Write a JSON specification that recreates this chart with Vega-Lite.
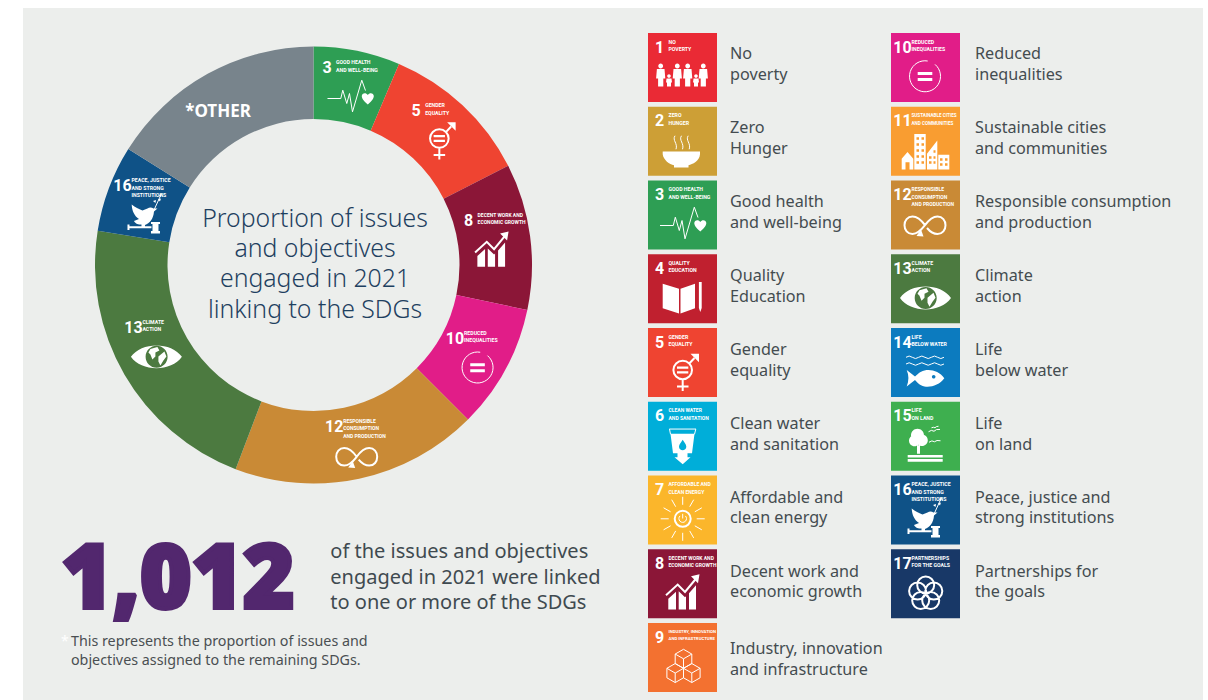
{
  "$schema": "https://vega.github.io/schema/vega-lite/v6.json",
  "width": 1180,
  "height": 692,
  "autosize": {"type": "none"},
  "padding": {"left": 23, "top": 8, "right": 5, "bottom": 0},
  "background": "#ffffff",
  "config": {"view": {"fill": "#eceeec", "stroke": null}},
  "datasets": {
    "goals": [
      {"goal": 1, "num": "1", "col": 1, "row": 1, "labelRow": 1, "title": "NO\nPOVERTY", "label": "No\npoverty"},
      {"goal": 2, "num": "2", "col": 1, "row": 2, "labelRow": 2, "title": "ZERO\nHUNGER", "label": "Zero\nHunger"},
      {"goal": 3, "num": "3", "col": 1, "row": 3, "labelRow": 3, "title": "GOOD HEALTH\nAND WELL-BEING", "label": "Good health\nand well-being"},
      {"goal": 4, "num": "4", "col": 1, "row": 4, "labelRow": 4, "title": "QUALITY\nEDUCATION", "label": "Quality\nEducation"},
      {"goal": 5, "num": "5", "col": 1, "row": 5, "labelRow": 5, "title": "GENDER\nEQUALITY", "label": "Gender\nequality"},
      {"goal": 6, "num": "6", "col": 1, "row": 6, "labelRow": 6, "title": "CLEAN WATER\nAND SANITATION", "label": "Clean water\nand sanitation"},
      {"goal": 7, "num": "7", "col": 1, "row": 7, "labelRow": 7, "title": "AFFORDABLE AND\nCLEAN ENERGY", "label": "Affordable and\nclean energy"},
      {"goal": 8, "num": "8", "col": 1, "row": 8, "labelRow": 8, "title": "DECENT WORK AND\nECONOMIC GROWTH", "label": "Decent work and\neconomic growth"},
      {"goal": 9, "num": "9", "col": 1, "row": 9, "labelRow": 9.05, "title": "INDUSTRY, INNOVATION\nAND INFRASTRUCTURE", "label": "Industry, innovation\nand infrastructure"},
      {"goal": 10, "num": "10", "col": 2, "row": 1, "labelRow": 1, "title": "REDUCED\nINEQUALITIES", "label": "Reduced\ninequalities"},
      {"goal": 11, "num": "11", "col": 2, "row": 2, "labelRow": 2, "title": "SUSTAINABLE CITIES\nAND COMMUNITIES", "label": "Sustainable cities\nand communities"},
      {"goal": 12, "num": "12", "col": 2, "row": 3, "labelRow": 3, "title": "RESPONSIBLE\nCONSUMPTION\nAND PRODUCTION", "label": "Responsible consumption\nand production"},
      {"goal": 13, "num": "13", "col": 2, "row": 4, "labelRow": 4, "title": "CLIMATE\nACTION", "label": "Climate\naction"},
      {"goal": 14, "num": "14", "col": 2, "row": 5, "labelRow": 5, "title": "LIFE\nBELOW WATER", "label": "Life\nbelow water"},
      {"goal": 15, "num": "15", "col": 2, "row": 6, "labelRow": 6, "title": "LIFE\nON LAND", "label": "Life\non land"},
      {"goal": 16, "num": "16", "col": 2, "row": 7, "labelRow": 7, "title": "PEACE, JUSTICE\nAND STRONG\nINSTITUTIONS", "label": "Peace, justice and\nstrong institutions"},
      {"goal": 17, "num": "17", "col": 2, "row": 8, "labelRow": 8, "title": "PARTNERSHIPS\nFOR THE GOALS", "label": "Partnerships for\nthe goals"}
    ],
    "slices": [
      {"goal": 3, "seq": 1, "share": 6.4, "ringX": 0.167, "ringY": 0.81, "num": "3", "title": "GOOD HEALTH\nAND WELL-BEING"},
      {"goal": 5, "seq": 2, "share": 11.1, "ringX": 0.575, "ringY": 0.613, "num": "5", "title": "GENDER\nEQUALITY"},
      {"goal": 8, "seq": 3, "share": 10.8, "ringX": 0.815, "ringY": 0.11, "num": "8", "title": "DECENT WORK AND\nECONOMIC GROWTH"},
      {"goal": 10, "seq": 4, "share": 9.2, "ringX": 0.753, "ringY": -0.429, "num": "10", "title": "REDUCED\nINEQUALITIES"},
      {"goal": 12, "seq": 5, "share": 18.3, "ringX": 0.2, "ringY": -0.831, "num": "12", "title": "RESPONSIBLE\nCONSUMPTION\nAND PRODUCTION"},
      {"goal": 13, "seq": 6, "share": 21.7, "ringX": -0.719, "ringY": -0.378, "num": "13", "title": "CLIMATE\nACTION"},
      {"goal": 16, "seq": 7, "share": 6.4, "ringX": -0.769, "ringY": 0.27, "num": "16", "title": "PEACE, JUSTICE\nAND STRONG\nINSTITUTIONS"},
      {"goal": 0, "seq": 8, "share": 16.1, "ringX": -0.437, "ringY": 0.677, "num": "", "title": "*OTHER"}
    ],
    "iconParts": [
      {"goal": 1, "part": "1s", "paint": "solid"},
      {"goal": 2, "part": "2s", "paint": "solid"},
      {"goal": 2, "part": "2t", "paint": "thin"},
      {"goal": 3, "part": "3s", "paint": "solid"},
      {"goal": 3, "part": "3t", "paint": "thin"},
      {"goal": 4, "part": "4s", "paint": "solid"},
      {"goal": 5, "part": "5s", "paint": "solid"},
      {"goal": 5, "part": "5b", "paint": "thick"},
      {"goal": 6, "part": "6s", "paint": "solid"},
      {"goal": 6, "part": "6t", "paint": "thin"},
      {"goal": 7, "part": "7t", "paint": "thin"},
      {"goal": 7, "part": "7b", "paint": "thick"},
      {"goal": 8, "part": "8s", "paint": "solid"},
      {"goal": 8, "part": "8b", "paint": "thick"},
      {"goal": 9, "part": "9t", "paint": "thin"},
      {"goal": 10, "part": "10s", "paint": "solid"},
      {"goal": 10, "part": "10t", "paint": "thin"},
      {"goal": 11, "part": "11s", "paint": "solid"},
      {"goal": 12, "part": "12s", "paint": "solid"},
      {"goal": 12, "part": "12b", "paint": "thick"},
      {"goal": 13, "part": "13s", "paint": "solid"},
      {"goal": 14, "part": "14s", "paint": "solid"},
      {"goal": 14, "part": "14t", "paint": "thin"},
      {"goal": 15, "part": "15s", "paint": "solid"},
      {"goal": 15, "part": "15t", "paint": "thin"},
      {"goal": 16, "part": "16s", "paint": "solid"},
      {"goal": 16, "part": "16t", "paint": "thin"},
      {"goal": 17, "part": "17t", "paint": "thick"}
    ]
  },
  "resolve": {"scale": {"x": "independent", "y": "independent"}},
  "layer": [
    {
      "data": {"name": "goals"},
      "mark": {"type": "point", "shape": "square", "filled": true, "size": 4761, "opacity": 1, "strokeWidth": 0},
      "encoding": {
        "x": {"field": "col", "type": "quantitative", "axis": null, "scale": {"domain": [1, 2], "range": [659.5, 902.5]}},
        "y": {"field": "row", "type": "quantitative", "axis": null, "scale": {"domain": [1, 9], "range": [59.5, 649.5]}},
        "color": {
          "field": "goal", "type": "nominal", "legend": null,
          "scale": {
            "domain": [0, 1, 2, 3, 4, 5, 6, 7, 8, 9, 10, 11, 12, 13, 14, 15, 16, 17],
            "range": ["#78848c", "#ea2a35", "#cd9f36", "#2e9e54", "#c0202f", "#ef4431", "#00aed9", "#fbb62b", "#8b1637", "#f37130", "#e11d88", "#f99d31", "#c98a36", "#4c7a40", "#0c7bbf", "#3eaf4f", "#0f5287", "#183867"]
          }
        }
      }
    },
    {
      "data": {"name": "goals"},
      "mark": {"type": "text", "font": "Roboto", "fontWeight": "bold", "fontSize": 16, "fill": "#ffffff", "align": "center", "baseline": "alphabetic", "dx": -23, "dy": -15},
      "encoding": {
        "x": {"field": "col", "type": "quantitative", "axis": null, "scale": {"domain": [1, 2], "range": [659.5, 902.5]}},
        "y": {"field": "row", "type": "quantitative", "axis": null, "scale": {"domain": [1, 9], "range": [59.5, 649.5]}},
        "text": {"field": "num", "type": "nominal"}
      }
    },
    {
      "data": {"name": "goals"},
      "mark": {"type": "text", "font": "Roboto", "fontWeight": "bold", "fontSize": {"expr": "datum.goal == 9 ? 4.3 : datum.goal == 11 ? 4.6 : datum.goal == 6 || datum.goal == 7 || datum.goal == 8 || datum.goal == 12 ? 5 : 5.2"}, "fill": "#ffffff", "align": "left", "baseline": "top", "dx": -14, "dy": -28, "lineBreak": "\n", "lineHeight": 7.5},
      "encoding": {
        "x": {"field": "col", "type": "quantitative", "axis": null, "scale": {"domain": [1, 2], "range": [659.5, 902.5]}},
        "y": {"field": "row", "type": "quantitative", "axis": null, "scale": {"domain": [1, 9], "range": [59.5, 649.5]}},
        "text": {"field": "title", "type": "nominal"}
      }
    },
    {
      "data": {"name": "iconParts"},
      "transform": [
        {"lookup": "goal", "from": {"data": {"name": "goals"}, "key": "goal", "fields": ["col", "row"]}}
      ],
      "mark": {"type": "point", "filled": true, "size": 4, "opacity": 1, "stroke": "#ffffff"},
      "encoding": {
        "x": {"field": "col", "type": "quantitative", "axis": null, "scale": {"domain": [1, 2], "range": [659.5, 902.5]}},
        "y": {"field": "row", "type": "quantitative", "axis": null, "scale": {"domain": [1, 9], "range": [59.5, 649.5]}},
        "fill": {"field": "paint", "type": "nominal", "legend": null, "scale": {"domain": ["solid", "thin", "thick"], "range": ["#ffffff", "transparent", "transparent"]}},
        "strokeWidth": {"field": "paint", "type": "ordinal", "legend": null, "scale": {"domain": ["solid", "thin", "thick"], "range": [0, 2, 3.2]}},
        "shape": {
          "field": "part", "type": "nominal", "legend": null,
          "scale": {
            "domain": ["1s", "2s", "2t", "3s", "3t", "4s", "5s", "5b", "6s", "6t", "7t", "7b", "8s", "8b", "9t", "10s", "10t", "11s", "12s", "12b", "13s", "14s", "14t", "15s", "15t", "16s", "16t", "17t"],
            "range": [
              "M-24.2,-1.5 a2.4,2.4 0 1,1 4.8,0 a2.4,2.4 0 1,1 -4.8,0 Z M-25.6,1.5 h7.6 l0.8,9.5 h-2 v8 h-5.2 v-8 h-2 Z M-7.6,-1.5 a2.4,2.4 0 1,1 4.8,0 a2.4,2.4 0 1,1 -4.8,0 Z M-9,1.5 h7.6 l0.8,9.5 h-2 v8 h-5.2 v-8 h-2 Z M2.8,-1.5 a2.4,2.4 0 1,1 4.8,0 a2.4,2.4 0 1,1 -4.8,0 Z M1.4,1.5 h7.6 l0.8,9.5 h-2 v8 h-5.2 v-8 h-2 Z M18.4,-1.5 a2.4,2.4 0 1,1 4.8,0 a2.4,2.4 0 1,1 -4.8,0 Z M17,1.5 h7.6 l0.8,9.5 h-2 v8 h-5.2 v-8 h-2 Z M-15.3,8.5 a1.8,1.8 0 1,1 3.6,0 a1.8,1.8 0 1,1 -3.6,0 Z M-16,11 h5 l0.5,4 h-1 v4 h-4 v-4 h-1 Z M11.7,8.5 a1.8,1.8 0 1,1 3.6,0 a1.8,1.8 0 1,1 -3.6,0 Z M11,11 h5 l0.5,4 h-1 v4 h-4 v-4 h-1 Z",
              "M-19.8,10.2 H17.5 V13 C17,20 10,23 6,24 V26.2 H-8.5 V24 C-13,23 -19,19 -19.8,13 Z",
              "M-7.5,-5.5 C-10.5,-1 -4.5,2 -6.5,8 M-1,-5.5 C-4,-1 2,2 0,8 M5.7,-5.5 C2.7,-1 8.7,2 6.7,8",
              "M17.8,16.5 C13,12.5 11.8,10 11.8,8 C11.8,5 16,4 17.8,7 C19.6,4 23.8,5 23.8,8 C23.8,10 22.6,12.5 17.8,16.5 Z",
              "M-22.5,10.5 H-9.2 L-7.2,2.2 L-3.2,15.5 L-0.5,5.5 L2.5,23.8 L11.8,-7.8 L15.5,2.5",
              "M-19.8,-5 L-3.5,0 V24.8 L-19.8,19.5 Z M-2,0 L12.5,-5 V19.5 L-2,24.8 Z M16.4,-6.8 h2.8 v26 l-1.4,4 l-1.4,-4 Z",
              "M8,-8.8 H16.5 V-0.3 Z M-5.5,4 H5.8 V6.3 H-5.5 Z M-5.5,8.7 H5.8 V11 H-5.5 Z",
              "M-9.1,7.5 A9.3,9.3 0 1,1 9.5,7.5 A9.3,9.3 0 1,1 -9.1,7.5 Z M7,0.8 L12,-4.5 M0.2,16.8 V28.5 M-5.5,24 H6",
              "M-12,-2.5 H12 L9.5,17 H5 V21 H8 L0.2,28 L-8,21 H-5 V17 H-9.5 Z M0.2,3.5 C-1.5,6.5 -3.5,8 -3.5,10.5 C-3.5,12.5 -1.7,14 0.2,14 C2,14 3.8,12.5 3.8,10.5 C3.8,8 2,6.5 0.2,3.5 Z",
              "M-13.2,-7.2 H13.5 M-13,-7.2 L-12,-2 M13.3,-7.2 L12,-2",
              "M14.2,8.8 L22.2,8.8 M12.3,15.8 L19.3,19.8 M7.2,20.9 L11.2,27.9 M0.2,22.8 L0.2,30.8 M-6.8,20.9 L-10.8,27.9 M-11.9,15.8 L-18.9,19.8 M-13.8,8.8 L-21.8,8.8 M-11.9,1.8 L-18.9,-2.2 M-6.8,-3.3 L-10.8,-10.3 M0.2,-5.2 L0.2,-13.2 M7.2,-3.3 L11.2,-10.3 M12.3,1.8 L19.3,-2.2 M-2.5,5.9 A3.8,3.8 0 1,0 2.9,5.9 M0.2,3.8 V8.5",
              "M-7.8,8.8 A8,8 0 1,1 8.2,8.8 A8,8 0 1,1 -7.8,8.8 Z",
              "M-14.2,25.8 V15 L-6.5,8 V25.8 Z M-3.8,25.8 V7.5 L2.5,13.5 L3.5,12.5 V25.8 Z M6.5,25.8 V9.5 L13.5,1.5 V25.8 Z M8.5,-7.5 L17,-9.5 L15.5,-0.5 Z",
              "M-16.5,11.5 L-4.8,0.8 L2.5,8.2 L13,-4.5",
              "M1,-8.2 l8.3,4.75 v9.5 l-8.3,4.75 l-8.3,-4.75 v-9.5 Z M-7.3,-3.45 L1,1.3 L9.3,-3.45 M1,1.3 V10.8 M-7.3,6.05 l8.3,4.75 v9.5 l-8.3,4.75 l-8.3,-4.75 v-9.5 Z M-15.6,10.8 L-7.3,15.55 L1,10.8 M-7.3,15.55 V25.05 M9.3,6.05 l8.3,4.75 v9.5 l-8.3,4.75 l-8.3,-4.75 v-9.5 Z M1,10.8 L9.3,15.55 L17.6,10.8 M9.3,15.55 V25.05",
              "M-7.8,4.5 H6.8 V7.5 H-7.8 Z M-7.8,10.5 H6.8 V13.5 H-7.8 Z",
              "M2.2,-6.5 A15.5,15.5 0 1,0 9.5,-3.1",
              "M-23.8,17.5 L-18,10.8 L-12.2,17.5 V28.2 H-23.8 Z M-20,21 v7.2 h4 v-7.2 Z M-11.2,-7.2 H0.2 V28.2 H-11.2 Z M-9,-4 v2.5 h2.5 v-2.5 Z M-4,-4 v2.5 h2.5 v-2.5 Z M-9,2 v2.5 h2.5 v-2.5 Z M-4,2 v2.5 h2.5 v-2.5 Z M-9,8 v2.5 h2.5 v-2.5 Z M-4,8 v2.5 h2.5 v-2.5 Z M-9,14 v2.5 h2.5 v-2.5 Z M-4,14 v2.5 h2.5 v-2.5 Z M-9,20 v2.5 h2.5 v-2.5 Z M-4,20 v2.5 h2.5 v-2.5 Z M1.5,12.5 L11.8,-0.8 V28.2 H1.5 Z M8,9 v2.5 h2 v-2.5 Z M3.5,15 v2.5 h2.5 v-2.5 Z M8,15 v2.5 h2 v-2.5 Z M3.5,20 v2.5 h2.5 v-2.5 Z M8,20 v2.5 h2 v-2.5 Z M12.8,13.5 H23.8 V28.2 H12.8 Z M14.5,17 v2.5 h2.5 v-2.5 Z M19.5,17 v2.5 h2.5 v-2.5 Z M14.5,22 v2.5 h2.5 v-2.5 Z M19.5,22 v2.5 h2.5 v-2.5 Z",
              "M-9,21 L-2,21.5 L-4.5,14.5 Z",
              "M-0.5,10.2 C-5,4 -9,1.5 -13,1.5 C-18,1.5 -21,5.5 -21,10.2 C-21,15 -18,19 -13,19 C-9,19 -5,16 -0.5,10.2 C4,4 8,1.5 12,1.5 C17,1.5 20,5.5 20,10.2 C20,15 17,19 12,19 C8,19 4,16 1.5,13",
              "M-25.5,9.2 C-15,-6 15,-6 25.5,9.2 C15,24.5 -15,24.5 -25.5,9.2 Z M-10.8,9.2 A11,11 0 1,0 11.2,9.2 A11,11 0 1,0 -10.8,9.2 Z M-6,1.5 L1,-0.5 L3,3 L-1,5 L-1,9 L-4,12 L-6,7 L-8,5 Z M2,9 L8,4 L10,9 L7,13 L4,18 L2,14 Z",
              "M18.8,15.8 C14,9 6,6.5 -1,8 C-6,9 -9,13 -10.5,14 L-18.8,7.5 C-16.5,13 -16.5,18 -18.8,24 L-10.5,17.5 C-9,19 -6,23 -1,24 C6,25 14,22.5 18.8,15.8 Z M6.4,14.2 A1.8,1.8 0 1,1 10,14.2 A1.8,1.8 0 1,1 6.4,14.2 Z",
              "M-19.5,-5.2 q3.2,-2.5 6.33,0 q3.2,2.5 6.33,0 q3.2,-2.5 6.33,0 q3.2,2.5 6.33,0 q3.2,-2.5 6.33,0 q3.2,2.5 6.33,0 M-19.5,1.5 q3.2,-2.5 6.33,0 q3.2,2.5 6.33,0 q3.2,-2.5 6.33,0 q3.2,2.5 6.33,0 q3.2,-2.5 6.33,0 q3.2,2.5 6.33,0",
              "M-14.5,-1 A6.5,6.5 0 1,1 -1.5,-1 A6.5,6.5 0 1,1 -14.5,-1 Z M-16.5,4.5 A5.5,5.5 0 1,1 -5.5,4.5 A5.5,5.5 0 1,1 -16.5,4.5 Z M-9.3,4 A5.8,5.8 0 1,1 2.3,4 A5.8,5.8 0 1,1 -9.3,4 Z M-8.5,9 H-5.5 V17.5 H-8.5 Z M-17.8,18.8 H17.2 V21.2 H-17.8 Z M-17.8,22.8 H17.2 V25.5 H-17.8 Z",
              "M3,-4.5 q3,-2.5 5.5,-0.5 q2,-2.5 6,-1.8 M6,-8.5 q2,-1 3.5,0 q1,-1.5 3.5,-1.5 M3.5,6 q3,-2.5 5.5,-0.5 q2,-2 6,-1",
              "M-13.8,-1.5 C-10,1.5 -7,3 -3,4.5 L2,2.5 C4,1 6,1 8,2.5 L12,2.5 L8.5,5.5 C8,13 4,17.5 -0.5,19 L-0.5,20.2 L-4,20.2 L-4,18.5 C-7,18.5 -10,18 -11.5,15 L-6.5,13 C-11,10 -13.5,5 -13.8,-1.5 Z M-17.5,20.2 H6 V22.2 H-17.5 Z M-18,18.5 h2 v5.5 h-2 Z M5.5,16 H14.5 V18 H13 V25 H14.5 V27.5 H5.5 V25 H7 V18 H5.5 Z M12.5,-6.5 l3,-1 l-1,3 Z M13.5,-10.5 l2.5,-1.5 l-0.5,3 Z M10,-3 l-2.5,-2 l3,-1 Z",
              "M9,3 L16.2,-12.8",
              "M-8.3,1.3 A8.5,8.5 0 1,1 8.7,1.3 A8.5,8.5 0 1,1 -8.3,1.3 Z M-0.2,7.2 A8.5,8.5 0 1,1 16.8,7.2 A8.5,8.5 0 1,1 -0.2,7.2 Z M-3.3,16.7 A8.5,8.5 0 1,1 13.7,16.7 A8.5,8.5 0 1,1 -3.3,16.7 Z M-13.3,16.7 A8.5,8.5 0 1,1 3.7,16.7 A8.5,8.5 0 1,1 -13.3,16.7 Z M-16.4,7.2 A8.5,8.5 0 1,1 0.6,7.2 A8.5,8.5 0 1,1 -16.4,7.2 Z"
            ]
          }
        }
      }
    },
    {
      "data": {"name": "goals"},
      "mark": {"type": "text", "font": "Noto Sans", "fontSize": 16.2, "fill": "#444c50", "align": "left", "baseline": "alphabetic", "lineBreak": "\n", "lineHeight": 20.8},
      "encoding": {
        "x": {"field": "col", "type": "quantitative", "axis": null, "scale": {"domain": [1, 2], "range": [707, 952]}},
        "y": {"field": "labelRow", "type": "quantitative", "axis": null, "scale": {"domain": [1, 9], "range": [51, 642.6]}},
        "text": {"field": "label", "type": "nominal"}
      }
    },
    {
      "data": {"name": "slices"},
      "mark": {"type": "arc", "radius": 218.5, "radius2": 146},
      "encoding": {
        "x": {"datum": 0, "type": "quantitative", "axis": null, "scale": {"domain": [-1, 1], "range": [72, 509]}},
        "y": {"datum": 0, "type": "quantitative", "axis": null, "scale": {"domain": [-1, 1], "range": [475.5, 38.5]}},
        "theta": {"field": "share", "type": "quantitative", "stack": true, "scale": {"domain": [0, 100]}},
        "order": {"field": "seq", "type": "quantitative"},
        "color": {"field": "goal", "type": "nominal", "legend": null}
      }
    },
    {
      "data": {"name": "slices"},
      "transform": [{"filter": "datum.goal > 0"}],
      "mark": {"type": "text", "font": "Roboto", "fontWeight": "bold", "fontSize": 16, "fill": "#ffffff", "align": "center", "baseline": "alphabetic", "dx": -23, "dy": -15},
      "encoding": {
        "x": {"field": "ringX", "type": "quantitative", "axis": null, "scale": {"domain": [-1, 1], "range": [72, 509]}},
        "y": {"field": "ringY", "type": "quantitative", "axis": null, "scale": {"domain": [-1, 1], "range": [475.5, 38.5]}},
        "text": {"field": "num", "type": "nominal"}
      }
    },
    {
      "data": {"name": "slices"},
      "transform": [{"filter": "datum.goal > 0"}],
      "mark": {"type": "text", "font": "Roboto", "fontWeight": "bold", "fontSize": {"expr": "datum.goal == 8 || datum.goal == 12 ? 5 : 5.2"}, "fill": "#ffffff", "align": "left", "baseline": "top", "dx": -14, "dy": -28, "lineBreak": "\n", "lineHeight": 7.5},
      "encoding": {
        "x": {"field": "ringX", "type": "quantitative", "axis": null, "scale": {"domain": [-1, 1], "range": [72, 509]}},
        "y": {"field": "ringY", "type": "quantitative", "axis": null, "scale": {"domain": [-1, 1], "range": [475.5, 38.5]}},
        "text": {"field": "title", "type": "nominal"}
      }
    },
    {
      "data": {"name": "slices"},
      "transform": [{"filter": "datum.goal == 0"}],
      "mark": {"type": "text", "font": "Noto Sans", "fontWeight": "bold", "fontSize": 17, "fill": "#ffffff", "align": "center", "baseline": "alphabetic"},
      "encoding": {
        "x": {"field": "ringX", "type": "quantitative", "axis": null, "scale": {"domain": [-1, 1], "range": [72, 509]}},
        "y": {"field": "ringY", "type": "quantitative", "axis": null, "scale": {"domain": [-1, 1], "range": [475.5, 38.5]}},
        "text": {"field": "title", "type": "nominal"}
      }
    },
    {
      "data": {"name": "iconParts"},
      "transform": [
        {"lookup": "goal", "from": {"data": {"name": "slices"}, "key": "goal", "fields": ["ringX", "ringY"]}},
        {"filter": "isValid(datum.ringX)"}
      ],
      "mark": {"type": "point", "filled": true, "size": 4, "opacity": 1, "stroke": "#ffffff"},
      "encoding": {
        "x": {"field": "ringX", "type": "quantitative", "axis": null, "scale": {"domain": [-1, 1], "range": [72, 509]}},
        "y": {"field": "ringY", "type": "quantitative", "axis": null, "scale": {"domain": [-1, 1], "range": [475.5, 38.5]}},
        "fill": {"field": "paint", "type": "nominal", "legend": null},
        "strokeWidth": {"field": "paint", "type": "ordinal", "legend": null},
        "shape": {"field": "part", "type": "nominal", "legend": null}
      }
    },
    {
      "data": {"values": [{"ringX": 0.007, "ringY": 0.175, "text": "Proportion of issues\nand objectives\nengaged in 2021\nlinking to the SDGs"}]},
      "mark": {"type": "text", "font": "Noto Sans", "fontWeight": 300, "fontSize": 24.8, "fill": "#1e4060", "align": "center", "baseline": "alphabetic", "lineBreak": "\n", "lineHeight": 30.3},
      "encoding": {
        "x": {"field": "ringX", "type": "quantitative", "axis": null, "scale": {"domain": [-1, 1], "range": [72, 509]}},
        "y": {"field": "ringY", "type": "quantitative", "axis": null, "scale": {"domain": [-1, 1], "range": [475.5, 38.5]}},
        "text": {"field": "text", "type": "nominal"}
      }
    },
    {
      "data": {"values": [{"ringX": -1.155, "ringY": -1.57, "text": "1,012"}]},
      "mark": {"type": "text", "font": "Noto Sans", "fontWeight": 900, "fontSize": 88, "fill": "#52276e", "stroke": "#52276e", "strokeWidth": 4, "align": "left", "baseline": "alphabetic"},
      "encoding": {
        "x": {"field": "ringX", "type": "quantitative", "axis": null, "scale": {"domain": [-1, 1], "range": [72, 509]}},
        "y": {"field": "ringY", "type": "quantitative", "axis": null, "scale": {"domain": [-1, 1], "range": [475.5, 38.5]}},
        "text": {"field": "text", "type": "nominal"}
      }
    },
    {
      "data": {"values": [{"ringX": 0.077, "ringY": -1.343, "text": "of the issues and objectives\nengaged in 2021 were linked\nto one or more of the SDGs"}]},
      "mark": {"type": "text", "font": "Noto Sans", "fontSize": 20, "fill": "#3f4a50", "align": "left", "baseline": "alphabetic", "lineBreak": "\n", "lineHeight": 25.5},
      "encoding": {
        "x": {"field": "ringX", "type": "quantitative", "axis": null, "scale": {"domain": [-1, 1], "range": [72, 509]}},
        "y": {"field": "ringY", "type": "quantitative", "axis": null, "scale": {"domain": [-1, 1], "range": [475.5, 38.5]}},
        "text": {"field": "text", "type": "nominal"}
      }
    },
    {
      "data": {"values": [{"ringX": -1.11, "ringY": -1.744, "text": "This represents the proportion of issues and\nobjectives assigned to the remaining SDGs."}]},
      "mark": {"type": "text", "font": "Noto Sans", "fontSize": 14.3, "fill": "#4a4f52", "align": "left", "baseline": "alphabetic", "lineBreak": "\n", "lineHeight": 19},
      "encoding": {
        "x": {"field": "ringX", "type": "quantitative", "axis": null, "scale": {"domain": [-1, 1], "range": [72, 509]}},
        "y": {"field": "ringY", "type": "quantitative", "axis": null, "scale": {"domain": [-1, 1], "range": [475.5, 38.5]}},
        "text": {"field": "text", "type": "nominal"}
      }
    },
    {
      "data": {"values": [{"ringX": -1.156, "ringY": -1.744, "text": "*"}]},
      "mark": {"type": "text", "font": "Noto Sans", "fontSize": 14, "fill": "#ffffff", "align": "left", "baseline": "alphabetic"},
      "encoding": {
        "x": {"field": "ringX", "type": "quantitative", "axis": null, "scale": {"domain": [-1, 1], "range": [72, 509]}},
        "y": {"field": "ringY", "type": "quantitative", "axis": null, "scale": {"domain": [-1, 1], "range": [475.5, 38.5]}},
        "text": {"field": "text", "type": "nominal"}
      }
    }
  ]
}
